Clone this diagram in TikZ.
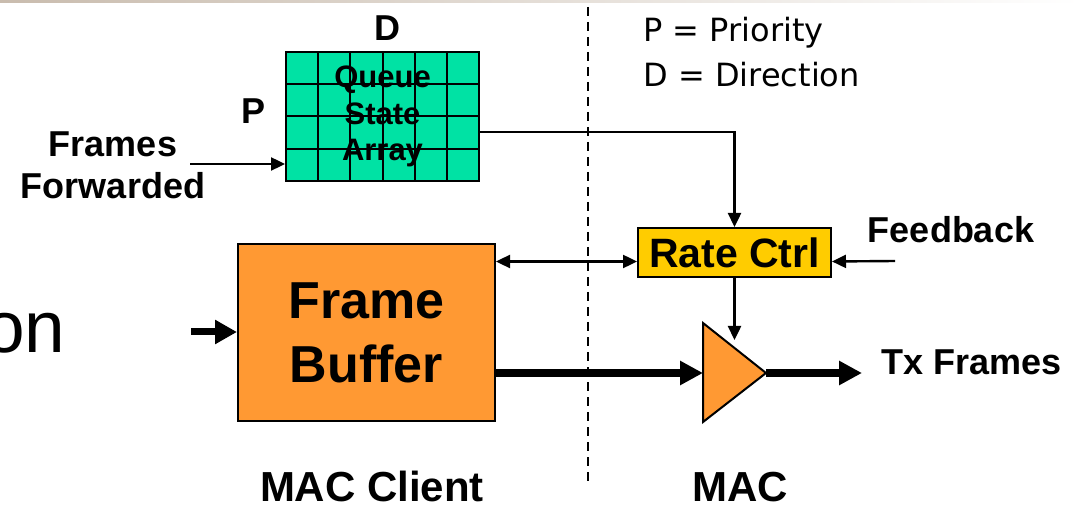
\documentclass[tikz,border=0pt]{standalone}
\usepackage{fontspec}
\setmainfont{Liberation Sans}
\newfontfamily\notefont{DejaVu Sans}
\usepackage{tikz}
\usetikzlibrary{
	arrows.meta,
	calc
}

\definecolor{qsagreen}{HTML}{00E2A4}
\definecolor{buforange}{HTML}{FF9933}
\definecolor{rategold}{HTML}{FFCC00}
\definecolor{slidetop}{HTML}{C9BCAE}

\tikzset{
	block/.style={draw,line width=1pt,inner sep=0pt,align=center},
	thinarrow/.style={line width=1.2pt,-{Triangle[length=7pt,width=6.5pt]}},
	botharrow/.style={line width=1.2pt,{Triangle[length=7pt,width=6.5pt]}-{Triangle[length=7pt,width=6.5pt]}},
	fatarrow/.style={line width=4pt,-{Triangle[length=11.5pt,width=11.5pt]}},
	lbl/.style={inner sep=0pt,font=\bfseries\fontsize{18}{21}\selectfont,align=center}
}

\begin{document}
\begin{tikzpicture}[x=0.5pt,y=-0.5pt]
	\useasboundingbox (0,0) rectangle (1080,507);
	% slide edge on top
	\shade[left color=slidetop,right color=white] (0,0) rectangle (1080,3);

	% MAC client / MAC split
	\draw[line width=1pt,dash pattern=on 4.5pt off 3pt] (588,7) -- (588,483);

	\draw
		node [block,fill=qsagreen,minimum width=96.5pt,minimum height=64.5pt,
			font=\bfseries\fontsize{15.5}{18.4}\selectfont,
			path picture={
				\foreach \i in {1,...,5}
					\draw[line width=1pt]
						($(path picture bounding box.north west)!\i/6!(path picture bounding box.north east)$) --
						($(path picture bounding box.south west)!\i/6!(path picture bounding box.south east)$);
				\foreach \j in {1,2,3}
					\draw[line width=1pt]
						($(path picture bounding box.north west)!\j/4!(path picture bounding box.south west)$) --
						($(path picture bounding box.north east)!\j/4!(path picture bounding box.south east)$);
			}]                                     (qsa)  at (382.5,116.5) {Queue\\State\\Array}
		node [lbl]                                 (dlbl) at (387,28)      {D}
		node [lbl]                                 (plbl) at (254,111)     {P}
		node [lbl]                                 (fwd)  at (113,165)     {Frames\\Forwarded}
		node [block,fill=buforange,minimum width=128.5pt,minimum height=88.5pt,
			font=\bfseries\fontsize{26}{32}\selectfont]  (buf)  at (366.5,332.5) {Frame\\Buffer}
		node [block,fill=rategold,minimum width=96.5pt,minimum height=24.5pt,
			font=\bfseries\fontsize{20.5}{24}\selectfont] (rate) at (734.5,252.5) {Rate Ctrl}
		node [lbl]                                 (fbk)  at (951,230)     {Feedback}
		node [lbl]                                 (txf)  at (972,362)     {Tx Frames}
		node [lbl,anchor=base,font=\bfseries\fontsize{21}{24}\selectfont] (cli) at (372,501) {MAC Client}
		node [lbl,anchor=base,font=\bfseries\fontsize{21}{24}\selectfont] (mac) at (740,501) {MAC}
		node [inner sep=0pt,anchor=base east,font=\fontsize{36.5}{40}\selectfont] (cut) at (66,352) {on}
		node [inner sep=0pt,anchor=base west,font=\notefont\fontsize{16}{18}\selectfont] (key1) at (643,42) {P = Priority}
		node [inner sep=0pt,anchor=base west,font=\notefont\fontsize{16}{18}\selectfont] (key2) at (643,87) {D = Direction}
	;

	% transmit stage
	\draw[line width=1pt,fill=buforange]
		(703,323) coordinate (amptop) -- (766,373) coordinate (amptip)
		-- (703,422) coordinate (ampbot) -- cycle;
	\coordinate (ampin) at (703,373);

	\coordinate (fwdout) at (190,164);
	\coordinate (qsaout) at (479,132);
	\coordinate (fbkout) at (895,261);
	\coordinate (cutout) at (191,332);
	\coordinate (txout)  at (862,373);

	\draw[thinarrow] (fwdout) -- (qsa.west |- fwdout);
	\draw[thinarrow] (qsaout) -| (rate.north);
	\draw[botharrow] ([yshift=-4.5pt]buf.east |- rate.west) -- ([yshift=-4.5pt]rate.west);
	\draw[thinarrow] (fbkout) -- ([yshift=-4.5pt]rate.east);
	\draw[thinarrow] (rate.south) -- (734.5,340);
	\draw[line width=3.5pt,-{Triangle[length=11pt,width=11.5pt]}] (cutout) -- (buf.west |- cutout);
	\draw[fatarrow] (buf.east |- ampin) -- (ampin);
	\draw[fatarrow] (amptip) -- (txout);
\end{tikzpicture}
\end{document}
